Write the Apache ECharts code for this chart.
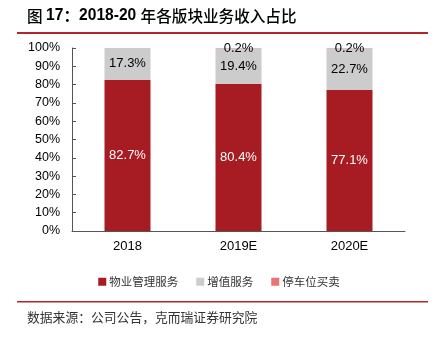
<!DOCTYPE html>
<html><head><meta charset="utf-8">
<script src="https://cdn.jsdelivr.net/npm/echarts@6/dist/echarts.min.js"></script>
<style>html,body{margin:0;padding:0;background:#fff}#c{width:438px;height:337px}</style>
</head><body><div id="c"></div>
<script>
const categories = ['2018', '2019E', '2020E'];
const propertyMgmt = [82.7, 80.4, 77.1];
const valueAdded = [17.3, 19.4, 22.7];
const parking = [0, 0.2, 0.2];
const seriesNames = ['物业管理服务', '增值服务', '停车位买卖'];
const yTicks = [0, 10, 20, 30, 40, 50, 60, 70, 80, 90, 100];

const chart = echarts.init(document.getElementById('c'));
const font = 'Arial, "Liberation Sans", "Noto Sans CJK SC", sans-serif';
const cjk = '"Noto Sans CJK SC", sans-serif';
function lbl(color) {
  return {
    show: true, position: 'inside', color: color, fontSize: 13, fontFamily: font,
    formatter: p => p.value > 0 ? p.value.toFixed(1) + '%' : ''
  };
}
chart.setOption({
  animation: false,
  title: {
    text: '{c|图 }{b|17}{k|：}{b|2018-20 }{c|年各版块业务收入占比}',
    left: 22, top: 3,
    textStyle: {
      rich: {
        b: { fontSize: 15.6, fontWeight: 'bold', color: '#000', fontFamily: 'Arial, "Liberation Sans", sans-serif' },
        k: { fontSize: 15.6, fontWeight: 'bold', color: '#000', fontFamily: cjk },
        c: { fontSize: 15.6, fontWeight: 500, color: '#000', fontFamily: cjk }
      }
    }
  },
  graphic: [
    { type: 'rect', shape: { x: 17, y: 32, width: 411, height: 2 }, style: { fill: '#B2262B' } },
    { type: 'rect', shape: { x: 17, y: 301, width: 411, height: 1.5 }, style: { fill: '#B2262B' } },
    { type: 'text', left: 27, top: 311, style: { text: '数据来源：公司公告，克而瑞证券研究院', fontSize: 12.8, fill: '#333', fontFamily: cjk } }
  ],
  legend: {
    data: seriesNames, top: 271, left: 'center',
    itemWidth: 8, itemHeight: 8, itemGap: 18, icon: 'rect',
    textStyle: { fontSize: 11.5, color: '#333', fontFamily: cjk, padding: [0, 0, 0, -2] }
  },
  grid: { left: 72, right: 33, top: 48, bottom: 106 },
  xAxis: {
    type: 'category', data: categories,
    axisLine: { lineStyle: { color: '#555' } },
    axisTick: { inside: true, length: 4, lineStyle: { color: '#555' } },
    axisLabel: { fontSize: 13, color: '#000', margin: 9, fontFamily: font }
  },
  yAxis: {
    type: 'value', min: 0, max: 100, interval: 10,
    axisLine: { show: true, lineStyle: { color: '#555' } },
    axisTick: { show: true, inside: true, length: 4, lineStyle: { color: '#555' } },
    splitLine: { show: false },
    axisLabel: { fontSize: 12.5, color: '#000', margin: 12, fontFamily: font,
      formatter: v => yTicks.includes(v) ? v + '%' : '' }
  },
  series: [
    { name: seriesNames[0], type: 'bar', stack: 's', data: propertyMgmt, barWidth: 46,
      itemStyle: { color: '#A61C22' }, label: lbl('#fff') },
    { name: seriesNames[1], type: 'bar', stack: 's', data: valueAdded, barWidth: 46,
      itemStyle: { color: '#CCCCCC' }, label: lbl('#000') },
    { name: seriesNames[2], type: 'bar', stack: 's', data: parking, barWidth: 46,
      itemStyle: { color: '#E97575' }, label: lbl('#000') }
  ]
});
</script></body></html>
